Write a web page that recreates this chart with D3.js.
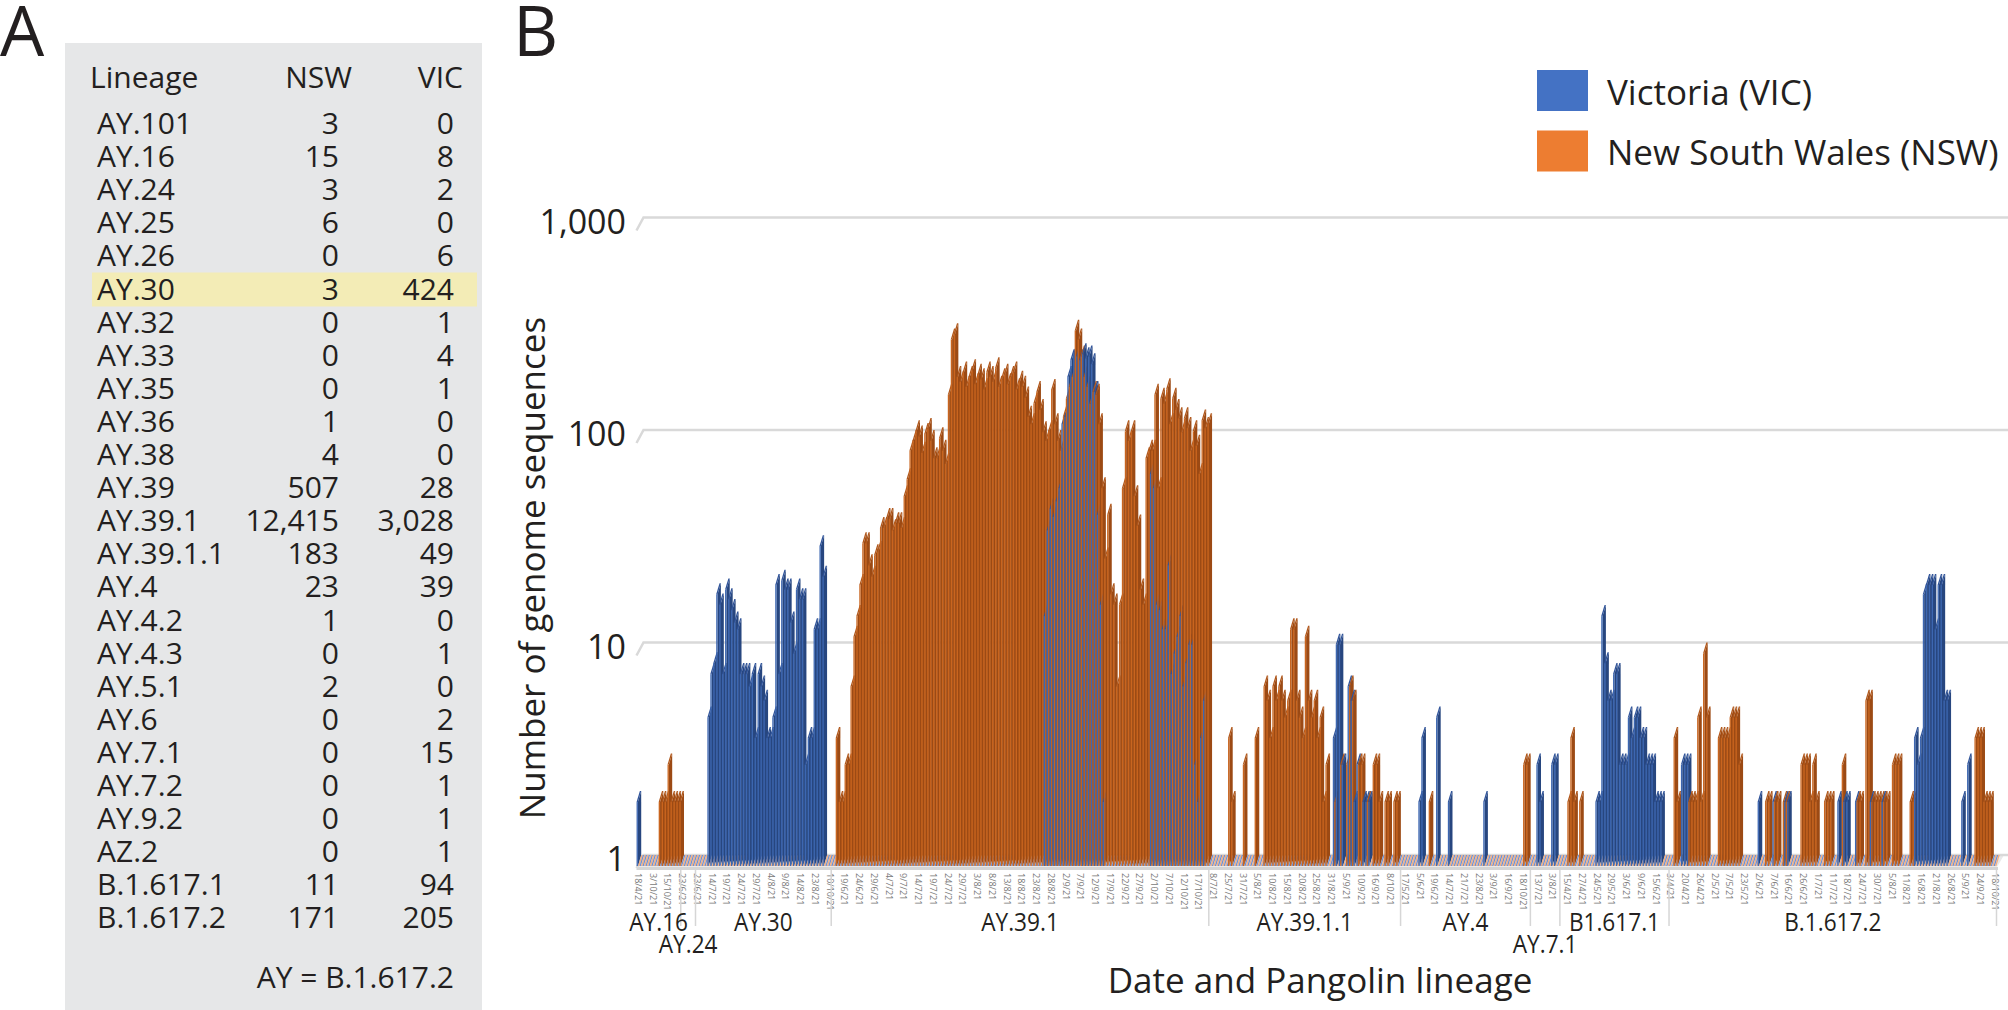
<!DOCTYPE html>
<meta charset="utf-8">
<script src="https://d3js.org/d3.v7.min.js"></script>
<style>
  body { margin: 0; background: #fff; }
  text { font-family: "Open Sans", sans-serif; fill: #231f20; }
</style>
<div id="fig"></div>
<script>

// ---- panel A: sequence counts per lineage ----
var lineages = ["AY.101","AY.16","AY.24","AY.25","AY.26","AY.30","AY.32","AY.33","AY.35","AY.36",
  "AY.38","AY.39","AY.39.1","AY.39.1.1","AY.4","AY.4.2","AY.4.3","AY.5.1","AY.6","AY.7.1",
  "AY.7.2","AY.9.2","AZ.2","B.1.617.1","B.1.617.2"];
var nswCounts = [3,15,3,6,0,3,0,0,0,1,4,507,12415,183,23,1,0,2,0,0,0,0,0,11,171];
var vicCounts = [0,8,2,0,6,424,1,4,1,0,0,28,3028,49,39,0,1,0,2,15,1,1,1,94,205];

// ---- panel B: daily sequences by lineage ----
var groupNames = ["AY.16","AY.24","AY.30","AY.39.1","AY.39.1.1","AY.4","AY.7.1","B1.617.1","B.1.617.2"];
var groupSizes = [15, 5, 46, 128, 65, 44, 10, 37, 111];

// every 5th category is labelled on the axis
var tickLabels = ["18/4/21","3/10/21","15/10/21","23/6/21","23/6/21","14/7/21","19/7/21","24/7/21","29/7/21","4/8/21",
  "9/8/21","14/8/21","23/8/21","10/10/21","19/6/21","24/6/21","29/6/21","4/7/21","9/7/21","14/7/21",
  "19/7/21","24/7/21","29/7/21","3/8/21","8/8/21","13/8/21","18/8/21","23/8/21","28/8/21","2/9/21",
  "7/9/21","12/9/21","17/9/21","22/9/21","27/9/21","2/10/21","7/10/21","12/10/21","17/10/21","8/7/21",
  "25/7/21","31/7/21","5/8/21","10/8/21","15/8/21","20/8/21","25/8/21","31/8/21","5/9/21","10/9/21",
  "16/9/21","8/10/21","17/5/21","5/6/21","19/6/21","14/7/21","21/7/21","23/8/21","3/9/21","16/9/21",
  "18/10/21","13/7/21","3/8/21","15/4/21","27/4/21","24/5/21","29/5/21","3/6/21","9/6/21","15/6/21",
  "3/4/21","20/4/21","26/4/21","2/5/21","7/5/21","23/5/21","2/6/21","7/6/21","16/6/21","26/6/21",
  "1/7/21","11/7/21","18/7/21","24/7/21","30/7/21","5/8/21","11/8/21","16/8/21","21/8/21","26/8/21",
  "5/9/21","24/9/21","18/10/21"];

var vicAY16 = [2,0,0,0,0,0,0,0,0,0, 0,0,0,0,0];
var nswAY16 = [0,0,0,0,0,0,0,2,2,2, 3,2,2,2,2];

var vicAY24 = [0,0,0,0,0];
var nswAY24 = [0,0,0,0,0];

var vicAY30 = [0,0,0,0,5,8,9,19,17,8, 20,18,16,14,13,8,8,8,7,8,
  4,8,7,6,4,4,5,21,8,22, 20,20,14,10,20,18,18,3,4,4, 13,13,32,23,0,0];
var nswAY30 = [0,0,0,0,0,0,0,0,0,0, 0,0,0,0,0,0,0,0,0,0,
  0,0,0,0,0,0,0,0,0,0, 0,0,0,0,0,0,0,0,0,0, 0,0,0,0,0,0];

var vicAY39_1 = [0,0,0,0,0,0,0,0,0,0, 0,0,0,0,0,0,0,0,0,0,
  0,0,0,0,0,0,0,0,0,0, 0,0,0,0,0,0,0,0,0,0,
  0,0,0,0,0,0,0,0,0,0, 0,0,0,0,0,0,0,0,0,0,
  0,0,0,0,0,0,0,0,0,0, 0,0,
  15,38,48,44,52,60,120,130,200,240, 256,250,240,256,245,250,230,170,45,17, 2,
  0,0,0,0,0,0,0,0,0,0, 0,0,0,0,
  0,70,60,17,16,13,13,26,8,10, 12,15,7,9,11,11,3,2,4,6, 0];
var nswAY39_1 = [0,4,2,2,3,3,7,12,15,21,
  33,33,26,23,29,30,39,39,43,43,
  38,41,41,39,55,66,90,100,111,105,
  88,108,114,100,83,83,103,90,78,165,
  300,318,200,190,210,180,200,215,185,205,
  195,175,210,200,190,220,180,195,205,185,
  200,210,175,190,180,160,130,120,150,170,
  140,110,100,111,174,120,100,90,130,158,
  180,200,330,300,250,200,180,150,170,165,
  120,60,28,45,19,17,7,17,60,111,
  100,111,55,40,20,17,83,90,90,165,
  60,158,150,175,120,158,140,128,110,128,
  115,90,111,95,70,125,115,120];

var vicAY39_1_1 = [0,0,0,0,0,0,0,0,0,0, 0,0,0,0,0,0,0,0,0,0,
  0,0,0,0,0,0,0,0,0,0, 0,0,0,0,0,0,0,0,0,0, 0,0,
  4,11,11,3,0,7,6,2,3,0,2,2,2,
  0,0,0,0,0,0,0,0,0,0];
var nswAY39_1_1 = [0,0,0,0,0,0,4,2,0,0,
  0,3,0,0,0,4,0,0,7,6,
  4,7,6,7,6,5,6,13,13,6,
  5,4,12,6,5,6,4,5,2,3,
  0,0,2,0,3,0,3,7,6,0,
  3,3,0,2,0,3,3,2,0,2,
  2,0,2,2,0];

var vicAY4 = [0,0,0,0,0,0,2,4,0,0, 0,0,5,0,0,0,2,0,0,0,
  0,0,0,0,0,0,0,0,2,0, 0,0,0,0,0,0,0,0,0,0, 0,0,0,0];
var nswAY4 = [0,0,0,0,0,0,0,0,0,2, 0,0,0,0,0,0,0,0,0,0,
  0,0,0,0,0,0,0,0,0,0, 0,0,0,0,0,0,0,0,0,0, 0,3,3,0];

var vicAY7_1 = [0,0,3,2,0,0,0,3,3,0];
var nswAY7_1 = [0,0,0,0,0,0,0,0,0,0];

var vicB1617_1 = [0,0,0,0,0,0,0,0,0,0,
  0,0,2,2,15,9,6,6,8,8,
  3,3,3,5,4,5,5,4,4,3,
  3,3,2,2,2,0,0];
var nswB1617_1 = [0,0,2,4,2,0,2,0,0,0,
  0,0,0,0,0,0,0,0,0,0, 0,0,0,0,0,0,0,0,0,0, 0,0,0,0,0,0,0];

var vicB1617_2 = [0,0,0,0,3,3,3,0,0,0,
  0,0,0,0,0,0,0,0,0,0,
  0,0,0,0,0,0,0,0,0,0,
  2,0,0,0,0,2,0,0,0,2,
  2,0,0,0,0,0,0,0,0,0,
  0,0,0,0,0,0,0,2,0,2,
  2,0,0,2,0,0,0,0,2,0,
  0,0,2,0,0,0,0,0,0,0,
  0,0,0,4,3,4,19,21,21,21,
  13,21,21,6,6,0,0,0,0,2,
  0,3,0,0,0,0,0,0,0,0,
  0];
var nswB1617_2 = [0,4,2,0,0,0,2,2,2,5,
  2,10,5,0,0,0,4,4,4,4,
  5,5,5,3,0,0,0,0,0,0,
  0,0,2,2,0,2,2,0,2,2,
  0,0,0,0,3,3,3,2,3,2,
  0,0,2,2,2,0,0,0,3,0,
  0,0,0,2,2,0,6,6,2,2,
  2,2,2,2,0,3,3,3,0,0,
  0,2,2,0,0,0,0,0,0,0,
  0,0,0,0,0,0,0,0,0,0,
  0,0,0,4,4,4,2,2,2,0,
  0];

var vicSeries = [vicAY16, vicAY24, vicAY30, vicAY39_1, vicAY39_1_1, vicAY4, vicAY7_1, vicB1617_1, vicB1617_2];
var nswSeries = [nswAY16, nswAY24, nswAY30, nswAY39_1, nswAY39_1_1, nswAY4, nswAY7_1, nswB1617_1, nswB1617_2];
var yTicks = [1, 10, 100, 1000];

var W = 2008, H = 1010;
var svg = d3.select("#fig").append("svg")
    .attr("width", W)
    .attr("height", H);

// ================= panel A =================
svg.append("text").attr("x", 0).attr("y", 56).attr("font-size", 70).text("A");

var tbl = svg.append("g");
tbl.append("rect")
    .attr("x", 65).attr("y", 43)
    .attr("width", 417).attr("height", 967)
    .attr("fill", "#e6e7e8");

var rowY = function(i) { return 134 + i * 33.1; };

var hi = lineages.indexOf("AY.30");
tbl.append("rect")
    .attr("x", 92).attr("y", rowY(hi) - 27)
    .attr("width", 385).attr("height", 34)
    .attr("fill", "#f3ecb6");

tbl.append("text").attr("x", 90).attr("y", 88).attr("font-size", 30).text("Lineage");
tbl.append("text").attr("x", 352).attr("y", 88).attr("font-size", 30).attr("text-anchor", "end").text("NSW");
tbl.append("text").attr("x", 463).attr("y", 88).attr("font-size", 30).attr("text-anchor", "end").text("VIC");

var fmt = d3.format(",");
var rows = tbl.selectAll("g.row")
  .data(lineages)
  .join("g")
    .attr("class", "row")
    .attr("transform", function(d, i) { return "translate(0," + rowY(i) + ")"; });
rows.append("text").attr("x", 97).attr("font-size", 30).text(function(d) { return d; });
rows.append("text").attr("x", 339).attr("font-size", 30).attr("text-anchor", "end")
    .text(function(d, i) { return fmt(nswCounts[i]); });
rows.append("text").attr("x", 454).attr("font-size", 30).attr("text-anchor", "end")
    .text(function(d, i) { return fmt(vicCounts[i]); });

tbl.append("text").attr("x", 454).attr("y", 988).attr("font-size", 30)
    .attr("text-anchor", "end").text("AY = B.1.617.2");

// ================= panel B =================
svg.append("text").attr("x", 513).attr("y", 56).attr("font-size", 70).text("B");

var nCat = d3.sum(groupSizes);
var x = d3.scaleBand()
    .domain(d3.range(nCat))
    .range([636.5, 1996.5])
    .paddingInner(0);
var xs = d3.scaleBand()
    .domain(["VIC", "NSW"])
    .range([0, x.bandwidth()])
    .paddingInner(0.08)
    .paddingOuter(0.04);
var y = d3.scaleLog()
    .domain([1, 1000])
    .range([866, 228.5]);

var DX = 3.3, DY = 11;   // bar depth
var base = y(1);

var plot = svg.append("g");

// floor
plot.append("polygon")
    .attr("points", [[636.5, 868], [1996.5, 868], [2004, base - DY], [643.5, base - DY]].join(" "))
    .attr("fill", "#e9e9e9");
plot.append("line")
    .attr("x1", 636.5).attr("x2", 1998)
    .attr("y1", 868.5).attr("y2", 868.5)
    .attr("stroke", "#d4d4d4").attr("stroke-width", 3);

// gridlines on the back wall
plot.selectAll("polyline.grid")
  .data(yTicks)
  .join("polyline")
    .attr("class", "grid")
    .attr("points", function(d) {
      var gy = y(d) - DY;
      return [[636.5, gy + 13], [643.5, gy], [W, gy]].join(" ");
    })
    .attr("fill", "none")
    .attr("stroke", "#d9d9d9")
    .attr("stroke-width", 2.5);

// y tick labels
svg.selectAll("text.ytick")
  .data(yTicks)
  .join("text")
    .attr("class", "ytick")
    .attr("x", 626)
    .attr("y", function(d) { return y(d) - DY + 3; })
    .attr("dominant-baseline", "central")
    .attr("text-anchor", "end")
    .attr("font-size", 34)
    .text(function(d) { return fmt(d); });

// bars
var bars = [];
var c = 0;
groupSizes.forEach(function(n, gi) {
  for (var j = 0; j < n; j++) {
    bars.push({cat: c, series: "VIC", value: vicSeries[gi][j]});
    bars.push({cat: c, series: "NSW", value: nswSeries[gi][j]});
    c++;
  }
});

var colors = {
  VIC: {front: "#3d67b1", side: "#27467f", top: "#30549a", flat: "#6f90d2"},
  NSW: {front: "#c9651f", side: "#9c4a14", top: "#b1571a", flat: "#f4ad7d"}
};
var bw = xs.bandwidth();

plot.selectAll("g.bar")
  .data(bars)
  .join("g")
    .attr("class", "bar")
    .each(function(d) {
      var g = d3.select(this);
      var bx = x(d.cat) + xs(d.series);
      var col = colors[d.series];
      if (d.value <= 1) {
        g.append("polygon")
            .attr("points", [[bx, base], [bx + bw, base], [bx + bw + DX, base - DY], [bx + DX, base - DY]].join(" "))
            .attr("fill", col.flat);
        return;
      }
      var yt = y(d.value);
      g.append("polygon")
          .attr("points", [[bx + bw, yt], [bx + bw + DX, yt - DY], [bx + bw + DX, base - DY], [bx + bw, base]].join(" "))
          .attr("fill", col.side);
      g.append("polygon")
          .attr("points", [[bx, yt], [bx + bw, yt], [bx + bw + DX, yt - DY], [bx + DX, yt - DY]].join(" "))
          .attr("fill", col.top);
      g.append("rect")
          .attr("x", bx).attr("y", yt)
          .attr("width", bw).attr("height", base - yt)
          .attr("fill", col.front);
    });

// date tick labels (every 5th category)
svg.selectAll("text.date")
  .data(tickLabels)
  .join("text")
    .attr("class", "date")
    .attr("transform", function(d, i) {
      return "translate(" + (x(i * 5) + x.bandwidth() / 2) + ",873) rotate(90)";
    })
    .attr("dy", "0.35em")
    .attr("font-family", "Liberation Sans, Arial, sans-serif")
    .attr("font-size", 9)
    .style("fill", "#7a7a7a")
    .text(function(d) { return d; });

// group separators and lineage labels
var starts = [];
var acc = 0;
groupSizes.forEach(function(n) { starts.push(acc); acc += n; });

var sepX = starts.slice(1).map(function(s) { return x(s); }).concat([x.range()[1]]);
svg.selectAll("line.sep")
  .data(sepX)
  .join("line")
    .attr("class", "sep")
    .attr("x1", function(d) { return d; }).attr("x2", function(d) { return d; })
    .attr("y1", 870).attr("y2", 926)
    .attr("stroke", "#d6d6d6")
    .attr("stroke-width", 1.5);

svg.selectAll("g.glabel")
  .data(groupNames)
  .join("g")
    .attr("class", "glabel")
    .attr("transform", function(d, i) {
      var x0 = x(starts[i]), x1 = x(starts[i]) + groupSizes[i] * x.bandwidth();
      var row2 = (x1 - x0) < 35;
      return "translate(" + ((x0 + x1) / 2) + "," + (row2 ? 953 : 931) + ") scale(0.87,1)";
    })
  .append("text")
    .attr("text-anchor", "middle")
    .attr("font-size", 26)
    .text(function(d) { return d; });

// axis titles
svg.append("text")
    .attr("transform", "translate(545,568) rotate(-90)")
    .attr("text-anchor", "middle")
    .attr("font-size", 35)
    .text("Number of genome sequences");

svg.append("text")
    .attr("x", 1320).attr("y", 993)
    .attr("text-anchor", "middle")
    .attr("font-size", 35)
    .text("Date and Pangolin lineage");

// legend
var legend = svg.append("g");
var legendItems = [{label: "Victoria (VIC)", color: "#4472c4"}, {label: "New South Wales (NSW)", color: "#ed7d31"}];
legend.selectAll("rect")
  .data(legendItems)
  .join("rect")
    .attr("x", 1537)
    .attr("y", function(d, i) { return 70 + i * 60.5; })
    .attr("width", 51).attr("height", 41)
    .attr("fill", function(d) { return d.color; });
legend.selectAll("text")
  .data(legendItems)
  .join("text")
    .attr("x", 1607)
    .attr("y", function(d, i) { return 91 + i * 60.5; })
    .attr("dominant-baseline", "central")
    .attr("font-size", 35)
    .text(function(d) { return d.label; });

</script>
